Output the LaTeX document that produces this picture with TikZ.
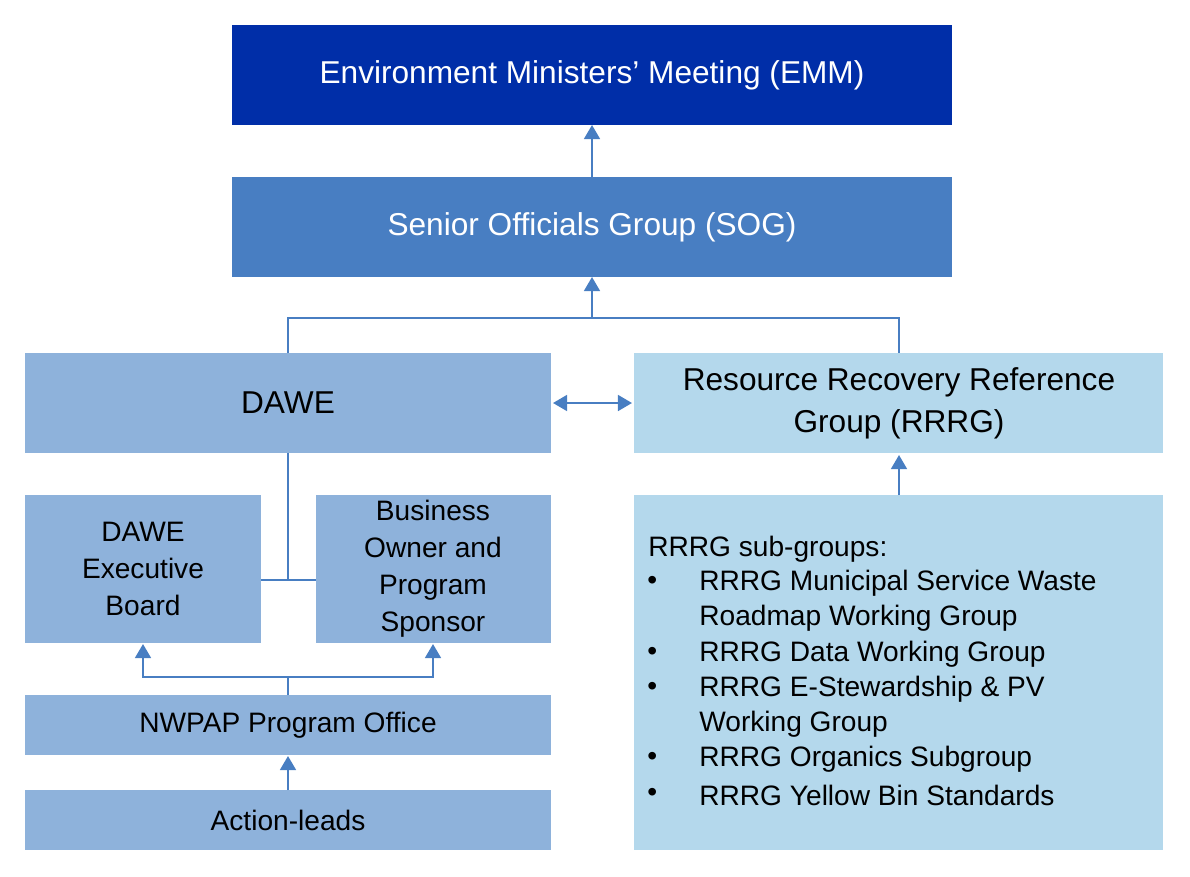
\documentclass[tikz,border=0pt]{standalone}
\usepackage{fontspec}
\setmainfont{Liberation Sans}
\usetikzlibrary{arrows.meta}
\definecolor{cemm}{RGB}{0,46,168}
\definecolor{csog}{RGB}{72,126,194}
\definecolor{cdawe}{RGB}{142,178,219}
\definecolor{crr}{RGB}{180,216,236}
\definecolor{cline}{RGB}{72,126,194}
\tikzset{
 bx/.style={inner sep=0pt,align=center},
 ln/.style={draw=cline,line width=1.3pt},
 ar/.style={ln,-{Triangle[width=9pt,length=8pt]}},
 big/.style={font=\fontsize{18}{22}\selectfont},
 mid/.style={font=\fontsize{16}{20}\selectfont},
 li/.style={anchor=west,inner sep=0pt,font=\fontsize{16}{20}\selectfont}
}
\begin{document}
\begin{tikzpicture}[x=0.02cm,y=-0.02cm]
\useasboundingbox (0,0) rectangle (1190,876);
\fill[cemm] (232,25) rectangle (952,125);
\node[bx,big,text=white] (emm) at (592,75) {Environment Ministers’ Meeting (EMM)};
\fill[csog] (232,177) rectangle (952,277);
\node[bx,big,text=white] (sog) at (592,227) {Senior Officials Group (SOG)};
\fill[cdawe] (25,353) rectangle (551,453);
\node[bx,big] (dawe) at (288,403) {DAWE};
\fill[crr] (634,353) rectangle (1163,453);
\node[bx,big] (rrrg) at (899,403) {Resource Recovery Reference\\[2pt]Group (RRRG)};
\fill[cdawe] (25,495) rectangle (261,643);
\node[bx,mid] (exec) at (143,569) {DAWE\\[1pt]Executive\\[1pt]Board};
\fill[cdawe] (316,495) rectangle (551,643);
\node[bx,mid] (bus) at (433,569) {Business\\[1pt]Owner and\\[1pt]Program\\[1pt]Sponsor};
\fill[cdawe] (25,695) rectangle (551,755);
\node[bx,mid] (nw) at (288,725) {NWPAP Program Office};
\fill[cdawe] (25,790) rectangle (551,850);
\node[bx,mid] (act) at (288,820) {Action-leads};
\fill[crr] (634,495) rectangle (1163,850);
\node[li] (s0) at (648,549) {RRRG sub-groups:};
\foreach \y/\t in {583/RRRG Municipal Service Waste,654/RRRG Data Working Group,689/RRRG E-Stewardship \& PV,759/RRRG Organics Subgroup,795/RRRG Yellow Bin Standards}{
 \node[li] (b\y) at (647,\y) {•};
 \node[li] (t\y) at (699,\y) {\t};}
\node[li] (c1) at (699,618) {Roadmap Working Group};
\node[li] (c2) at (699,724) {Working Group};
% connectors
\coordinate (sogb) at (592,277);
\draw[ar] (592,177) -- (592,125);
\draw[ar] (592,318) -- (592,277);
\draw[ln] (288,353) -- (288,318) -- (899,318) -- (899,353);
\draw[ln,{Triangle[width=9pt,length=8pt]}-{Triangle[width=9pt,length=8pt]}] (553,403) -- (632,403);
\draw[ar] (899,495) -- (899,455);
\draw[ln] (288,453) -- (288,580);
\draw[ln] (261,580) -- (316,580);
\draw[ln] (288,695) -- (288,677);
\draw[ar] (143,677) -- (143,644);
\draw[ar] (433,677) -- (433,644);
\draw[ln] (142,677) -- (434,677);
\draw[ar] (288,790) -- (288,756);
\end{tikzpicture}
\end{document}
